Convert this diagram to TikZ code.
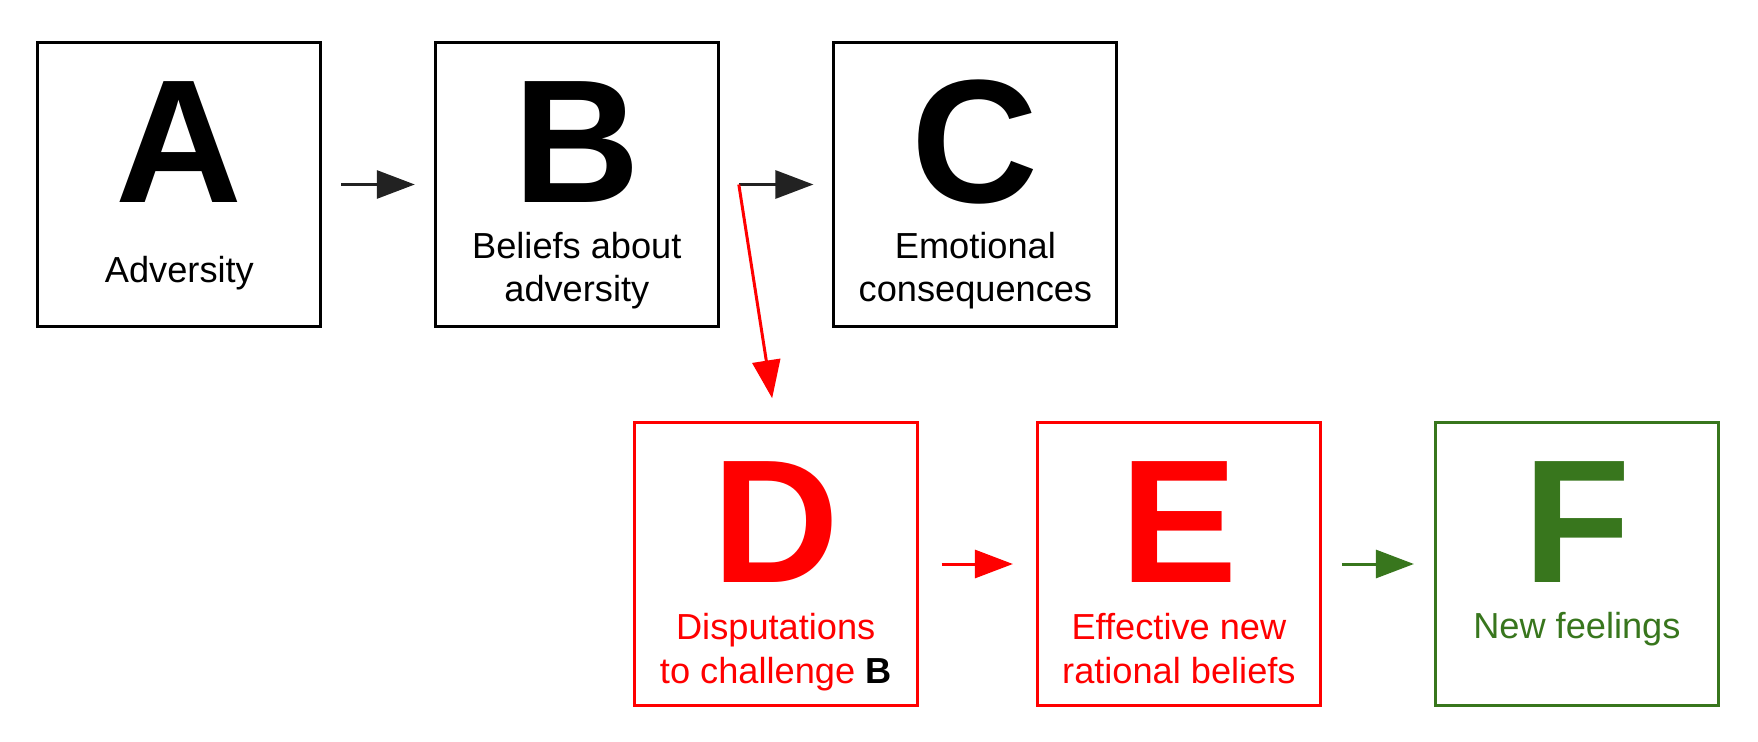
\documentclass[tikz,border=0pt]{standalone}
\usepackage{fontspec}
\setmainfont{Liberation Sans}
\usetikzlibrary{arrows.meta}
\definecolor{dunkelgruen}{HTML}{38761D}
\definecolor{pfeilgrau}{HTML}{222222}
\begin{document}
\begin{tikzpicture}
			\tikzset{kasten/.style={rectangle, line width=0.03cm, draw=black, minimum width=2.83cm, minimum height=2.83cm, inner sep=0},
				buchstabe/.style={anchor=base, inner sep=0, font=\fontsize{50}{52}\selectfont\bfseries},
				beschriftung/.style={anchor=base, inner sep=0, align=center, font=\fontsize{10.3}{12.5}\selectfont},
				pfeil/.style={line width=0.03cm, -{Triangle[length=0.38cm, width=0.28cm]}, shorten <=0.19cm, shorten >=0.19cm}}

			\useasboundingbox (0,0) rectangle (17.58,-7.42);

			\node[kasten] at (1.794, -1.845) (a) {};
			\node[buchstabe] at (1.794, -2.03) (a-gross) {A};
			\node[beschriftung] at (1.794, -2.82) (a-text) {Adversity};
			\node[kasten] at (5.768, -1.845) (b) {};
			\node[buchstabe] at (5.768, -2.03) (b-gross) {B};
			\node[beschriftung] at (5.768, -3.02) (b-text) {Beliefs about\\adversity};
			\node[kasten] at (9.754, -1.845) (c) {};
			\node[buchstabe] at (9.754, -2.03) (c-gross) {C};
			\node[beschriftung] at (9.754, -3.02) (c-text) {Emotional\\consequences};

			\node[kasten, draw=red] at (7.757, -5.64) (d) {};
			\node[buchstabe, text=red] at (7.757, -5.825) (d-gross) {D};
			\node[beschriftung, text=red] at (7.757, -6.83) (d-text) {Disputations\\to challenge {\color{black}\textbf{B}}};
			\node[kasten, draw=red] at (11.789, -5.64) (e) {};
			\node[buchstabe, text=red] at (11.789, -5.825) (e-gross) {E};
			\node[beschriftung, text=red] at (11.789, -6.83) (e-text) {Effective new\\rational beliefs};
			\node[kasten, draw=dunkelgruen] at (15.769, -5.64) (f) {};
			\node[buchstabe, text=dunkelgruen] at (15.769, -5.825) (f-gross) {F};
			\node[beschriftung, text=dunkelgruen] at (15.769, -6.38) (f-text) {New feelings};

			\coordinate (abzweig) at ([xshift=0.19cm]b.east);
			\draw [pfeil, color=pfeilgrau] (a) -- (b);
			\draw [pfeil, color=pfeilgrau] (b) -- (c);
			\draw [pfeil, color=red, shorten <=0cm, shorten >=0.23cm] (abzweig) -- (d.north);
			\draw [pfeil, color=red, shorten <=0.23cm, shorten >=0.23cm] (d) -- (e);
			\draw [pfeil, color=dunkelgruen, shorten <=0.2cm, shorten >=0.2cm] (e) -- (f);
		\end{tikzpicture}
\end{document}
